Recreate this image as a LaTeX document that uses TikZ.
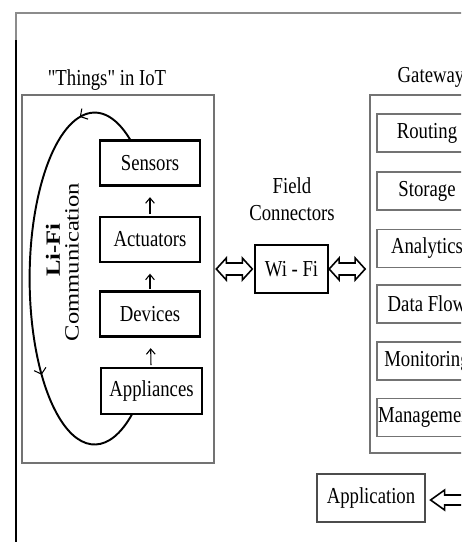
\documentclass[tikz,border=0pt]{standalone}
\usepackage{fontspec}
\setmainfont{Liberation Serif}[FakeStretch=0.82, Ligatures=TeXOff]
\newfontfamily\rotfont{Liberation Serif}
\usetikzlibrary{arrows.meta,decorations.markings,calc}

\tikzset{
  thing/.style={draw, line width=1.3pt, minimum width=2cm, minimum height=0.9cm, inner sep=0pt},
  gwbox/.style={draw=black!55, line width=0.6pt, minimum width=2cm, minimum height=0.76cm, inner sep=0pt},
  frame/.style={draw=black!55, line width=0.7pt, inner sep=0pt},
  flow/.style={line width=0.6pt, -{Straight Barb[length=3pt,width=5pt]}, shorten >=6pt, shorten <=1pt},
  pics/dblarrow/.style={code={
    \draw[line width=0.9pt] (-18,0) -- (-8,-11) -- (-8,-6) -- (8,-6) -- (8,-11) -- (18,0)
      -- (8,11) -- (8,6) -- (-8,6) -- (-8,11) -- cycle;
  }},
}

\begin{document}
\begin{tikzpicture}[x=0.02cm, y=-0.02cm, font=\fontsize{13}{15.5}\selectfont]
        \useasboundingbox (0,0) rectangle (461,542);
        \clip (0,0) rectangle (461,542);
        \fill[white] (0,0) rectangle (461,542);

        % outer page frame
        \draw[black!45, line width=0.8pt] (16,560) -- (16,13) -- (480,13);
        \draw[black, line width=0.8pt] (16,40) -- (16,560);

        % things in IoT
        \node[frame, minimum width=3.84cm, minimum height=7.36cm] (things) at (118,279) {};
        \node (thingslabel) at (107,80) {"Things" in IoT};
        \node[thing] (sensors) at (150,163) {Sensors};
        \node[thing] (actuators) at (150,239.5) {Actuators};
        \node[thing] (devices) at (150,314) {Devices};
        \node[thing, minimum width=2.02cm, minimum height=0.92cm] (appliances) at (151.5,391) {Appliances};

        \node[rotate=90] (lifi) at (53,250) {\scalebox{1}[0.82]{\rotfont\fontsize{14}{16}\selectfont\bfseries Li-Fi}};
        \node[rotate=90] (comm) at (72,262) {\scalebox{1}[0.82]{\rotfont\fontsize{14}{16}\selectfont Communication}};

        \draw[flow] (actuators) -- (sensors);
        \draw[flow] (devices) -- (actuators);
        \draw[flow] (appliances) -- (devices);

        % li-fi loop
        \draw[line width=1.1pt, postaction={decorate}, decoration={markings,
            mark=at position 0.13 with {\arrow[line width=0.6pt]{Straight Barb[length=3pt,width=7pt]}},
            mark=at position 0.7 with {\arrow[line width=0.6pt]{Straight Barb[length=3pt,width=7pt]}}}]
          ([xshift=-0.4cm]sensors.north) arc[start angle=57, end angle=305, x radius=1.3cm, y radius=3.32cm];

        % field connectors
        \node[align=center] (fieldlabel) at (292,199) {Field\\Connectors};
        \node[draw, line width=1.1pt, minimum width=1.46cm, minimum height=0.96cm, inner sep=0pt] (wifi) at (291.5,269) {Wi - Fi};

        % gateway
        \node[frame, minimum width=2.28cm, minimum height=7.16cm] (gateway) at (427,274) {};
        \node (gatewaylabel) at (431,77) {Gateway};
        \node[gwbox] (routing) at (427,133) {Routing};
        \node[gwbox] (storage) at (427,191) {Storage};
        \node[gwbox] (analytics) at (427,248.5) {Analytics};
        \node[gwbox] (dataflow) at (427,304) {Data Flow};
        \node[gwbox] (monitoring) at (427,361) {Monitoring};
        \node[gwbox] (management) at (427,417.5) {Management};

        \pic at ($(things.east |- wifi)!0.5!(wifi.west)$) {dblarrow};
        \pic at ($(wifi.east)!0.45!(gateway.west |- wifi)$) {dblarrow};

        % application
        \node[draw=black!70, line width=0.7pt, minimum width=2.16cm, minimum height=0.96cm, inner sep=0pt] (app) at (371,498) {Application};
        \draw[line width=0.9pt] ($(app.east)+(5,2)$) -- ++(14,-10) -- ++(0,5) -- ++(40,0) -- ++(0,10)
          -- ++(-40,0) -- ++(0,5) -- cycle;
\end{tikzpicture}
\end{document}
